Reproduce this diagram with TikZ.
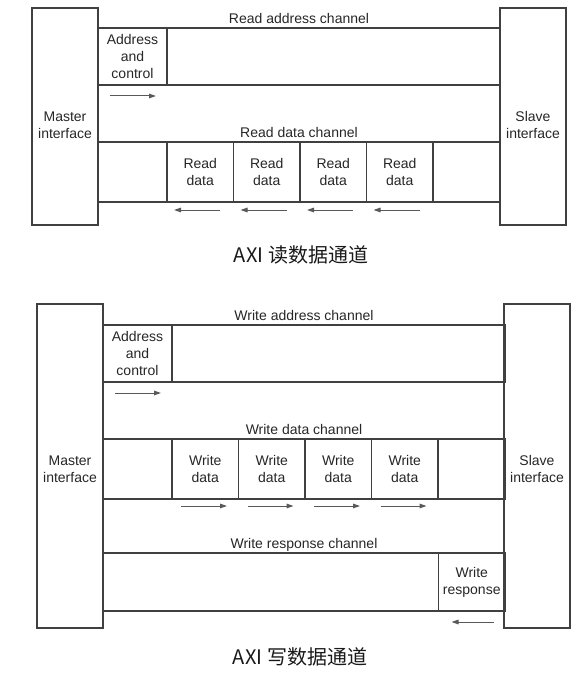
\documentclass[tikz,border=0pt]{standalone}
\usepackage{fontspec}
\setmainfont{Liberation Sans}
\newfontfamily\cjk{Noto Sans CJK SC}
\usepackage{tikz}
\usetikzlibrary{arrows.meta,positioning}
\tikzset{
  every picture/.style = {
    line width = 1.3pt,
    >={Stealth[length=7pt,width=4.6pt,inset=0pt]},
    node distance = 0pt and 0pt,
  }
  ,
  iface/.style = {
    rectangle,
    draw = black!75,
    minimum width = 66pt,
    outer sep = 0pt,
    inner sep = 0pt
  }
  , % text of the interfaces
  iface-text/.style = {
    font = \fontsize{14}{17}\selectfont,
    text = black!85,
    align = center
  }
  , % lanes between master and slave
  lane/.style = {
    rectangle,
    draw = black!75,
    minimum width = 402pt,
    outer sep = 0pt,
    inner sep = 0pt
  }
  , % cells inside a lane
  cell/.style = {
    rectangle,
    draw = black!75,
    font = \fontsize{14}{17}\selectfont,
    text = black!85,
    align = center,
    minimum width = 66.5pt,
    outer sep = 0pt,
    inner sep = 1pt
  }
  , % labels of lanes
  label-lane/.style = {
    font = \fontsize{14}{17}\selectfont,
    text = black!85,
    inner sep = 0pt,
    text depth = 0pt,
    label distance = 4pt
  }
  ,
  flow/.style = {
    ->,
    line width = 1pt,
    draw = black!65
  }
  ,
  caption/.style = {
    font = \cjk\fontsize{20}{24}\selectfont,
    text = black!90
  }
}
\begin{document}
\begin{tikzpicture}[x=1pt, y=-1pt]
    \useasboundingbox (0,0) rectangle (584,674);
    % read channels
    \node [iface, minimum height = 217pt,
           label = {[iface-text, yshift=-8.5pt]center:Master\\interface}] (m1) at (65,116.5) {};
    \node [iface, minimum height = 217pt,
           label = {[iface-text, yshift=-8.5pt]center:Slave\\interface}] (s1) at (533,116.5) {};
    \node [lane, minimum height = 57pt, anchor = north west,
           label = {[label-lane]above:Read address channel}] (ra) at ([yshift=-20pt]m1.north east) {};
    \node [cell, minimum width = 69pt, minimum height = 57pt, anchor = north west] (ac1) at (ra.north west) {Address\\and\\control};
    \draw [flow] ([xshift=12pt, yshift=-11pt]ac1.south west) -- ++(46,0);
    \node [lane, minimum height = 60pt, below = 57pt of ra,
           label = {[label-lane]above:Read data channel}] (rdl) {};
    \node [cell, minimum height = 60pt, anchor = north west] (rd1) at ([xshift=69pt]rdl.north west) {Read\\data};
    \foreach \i [count=\j from 1] in {2,3,4}
      \node [cell, minimum height = 60pt, right = of rd\j] (rd\i) {Read\\data};
    \foreach \i in {1,...,4}
      \draw [flow, <-] ([xshift=7pt, yshift=-8pt]rd\i.south west) -- ++(46,0);
    \node [caption] (cap1) at (301,255) {AXI 读数据通道};
    % write channels
    \node [iface, minimum height = 324pt,
           label = {[iface-text, yshift=-3pt]center:Master\\interface}] (m2) at (70,466) {};
    \node [iface, minimum height = 324pt,
           label = {[iface-text, yshift=-3pt]center:Slave\\interface}] (s2) at (537,466) {};
    \node [lane, minimum height = 57pt, anchor = north west,
           label = {[label-lane]above:Write address channel}] (wa) at ([yshift=-21pt]m2.north east) {};
    \node [cell, minimum width = 69pt, minimum height = 57pt, anchor = north west] (ac2) at (wa.north west) {Address\\and\\control};
    \draw [flow] ([xshift=12pt, yshift=-11pt]ac2.south west) -- ++(46,0);
    \node [lane, minimum height = 60pt, below = 57pt of wa,
           label = {[label-lane]above:Write data channel}] (wdl) {};
    \node [cell, minimum height = 60pt, anchor = north west] (wd1) at ([xshift=69pt]wdl.north west) {Write\\data};
    \foreach \i [count=\j from 1] in {2,3,4}
      \node [cell, minimum height = 60pt, right = of wd\j] (wd\i) {Write\\data};
    \foreach \i in {1,...,4}
      \draw [flow] ([xshift=9pt, yshift=-7pt]wd\i.south west) -- ++(46,0);
    \node [lane, minimum height = 58pt, below = 54pt of wdl,
           label = {[label-lane]above:Write response channel}] (wr) {};
    \node [cell, minimum height = 58pt, anchor = north east] (wresp) at (wr.north east) {Write\\response};
    \draw [flow, <-] ([xshift=13pt, yshift=-11pt]wresp.south west) -- ++(42,0);
    \node [caption] (cap2) at (300,657) {AXI 写数据通道};
\end{tikzpicture}
\end{document}
